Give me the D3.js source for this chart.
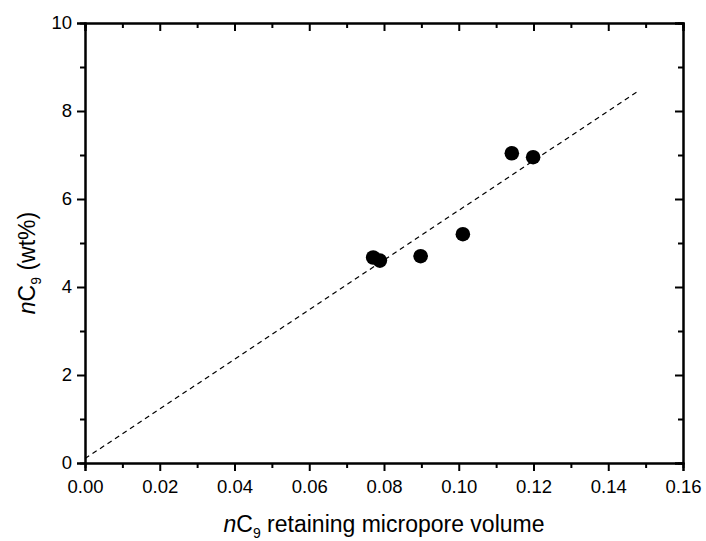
<!DOCTYPE html>
<html>
<head>
<meta charset="utf-8">
<script src="https://cdn.jsdelivr.net/npm/d3@7"></script>
<style>
  body { margin: 0; background: #fff; }
  text { font-family: "Liberation Sans", Arial, sans-serif; fill: #000; }
</style>
</head>
<body>
<div id="chart"></div>
<script>
// micropore volume vs nC9 uptake
const poreVolume = [0.0771, 0.0789, 0.0898, 0.1011, 0.1142, 0.1199];
const nc9Wt = [4.67, 4.60, 4.70, 5.20, 7.04, 6.95];
// fitted line endpoints (x, y)
const fitX = [0.0, 0.148];
const fitY = [0.1, 8.45];
const xTicks = [0, 0.02, 0.04, 0.06, 0.08, 0.10, 0.12, 0.14, 0.16];
const yTicks = [0, 2, 4, 6, 8, 10];

const width = 706, height = 541;
const margin = {top: 23, right: 23, bottom: 78, left: 85};
const w = width - margin.left - margin.right;
const h = height - margin.top - margin.bottom;

const svg = d3.select("#chart").append("svg")
    .attr("width", width)
    .attr("height", height);

const g = svg.append("g")
    .attr("transform", "translate(" + margin.left + "," + margin.top + ")");

const x = d3.scaleLinear().domain([0, 0.16]).range([0, w]);
const y = d3.scaleLinear().domain([0, 10]).range([h, 0]);

// minor ticks halfway between majors
const xMinor = d3.range(0.01, 0.16, 0.02);
const yMinor = d3.range(1, 10, 2);

function styleAxis(sel) {
    sel.select(".domain").attr("stroke", "#000").attr("stroke-width", 2);
    sel.selectAll(".tick line").attr("stroke", "#000").attr("stroke-width", 2);
    sel.selectAll(".tick text").style("font-size", "18.5px");
}

// bottom axis
g.append("g")
    .attr("transform", "translate(0," + h + ")")
    .call(d3.axisBottom(x).tickValues(xTicks).tickFormat(d3.format(".2f")).tickSizeOuter(0).tickSize(8).tickPadding(9))
    .call(styleAxis);
g.append("g")
    .attr("transform", "translate(0," + h + ")")
    .call(d3.axisBottom(x).tickValues(xMinor).tickFormat("").tickSizeOuter(0).tickSize(5))
    .call(styleAxis);

// left axis
g.append("g")
    .call(d3.axisLeft(y).tickValues(yTicks).tickSizeOuter(0).tickSize(8).tickPadding(5))
    .call(styleAxis);
g.append("g")
    .call(d3.axisLeft(y).tickValues(yMinor).tickFormat("").tickSizeOuter(0).tickSize(5))
    .call(styleAxis);

// top axis (ticks inward)
g.append("g")
    .call(d3.axisTop(x).tickValues(xTicks).tickFormat("").tickSizeOuter(0).tickSize(-8))
    .call(styleAxis);
g.append("g")
    .call(d3.axisTop(x).tickValues(xMinor).tickFormat("").tickSizeOuter(0).tickSize(-5))
    .call(styleAxis);

// right axis (ticks inward)
g.append("g")
    .attr("transform", "translate(" + w + ",0)")
    .call(d3.axisRight(y).tickValues(yTicks).tickFormat("").tickSizeOuter(0).tickSize(-8))
    .call(styleAxis);
g.append("g")
    .attr("transform", "translate(" + w + ",0)")
    .call(d3.axisRight(y).tickValues(yMinor).tickFormat("").tickSizeOuter(0).tickSize(-5))
    .call(styleAxis);

// dashed fit line
const line = d3.line().x(d => x(d[0])).y(d => y(d[1]));
g.append("path")
    .datum(d3.zip(fitX, fitY))
    .attr("d", line)
    .attr("fill", "none")
    .attr("stroke", "#000")
    .attr("stroke-width", 1.2)
    .attr("stroke-dasharray", "5,4");

// points
g.selectAll(".pt")
    .data(d3.zip(poreVolume, nc9Wt))
    .enter().append("circle")
    .attr("class", "pt")
    .attr("cx", d => x(d[0]))
    .attr("cy", d => y(d[1]))
    .attr("r", 7.3)
    .attr("fill", "#000");

// x axis title
const xt = svg.append("text")
    .attr("x", margin.left + w / 2)
    .attr("y", 532)
    .attr("text-anchor", "middle")
    .style("font-size", "23px");
xt.append("tspan").style("font-style", "italic").text("n");
xt.append("tspan").text("C");
xt.append("tspan").attr("dy", 6).style("font-size", "14px").text("9");
xt.append("tspan").attr("dy", -6).text(" retaining micropore volume");

// y axis title
const yt = svg.append("text")
    .attr("transform", "translate(35,263) rotate(-90)")
    .attr("text-anchor", "middle")
    .style("font-size", "23px");
yt.append("tspan").style("font-style", "italic").text("n");
yt.append("tspan").text("C");
yt.append("tspan").attr("dy", 6).style("font-size", "14px").text("9");
yt.append("tspan").attr("dy", -6).text(" (wt%)");
</script>
</body>
</html>
